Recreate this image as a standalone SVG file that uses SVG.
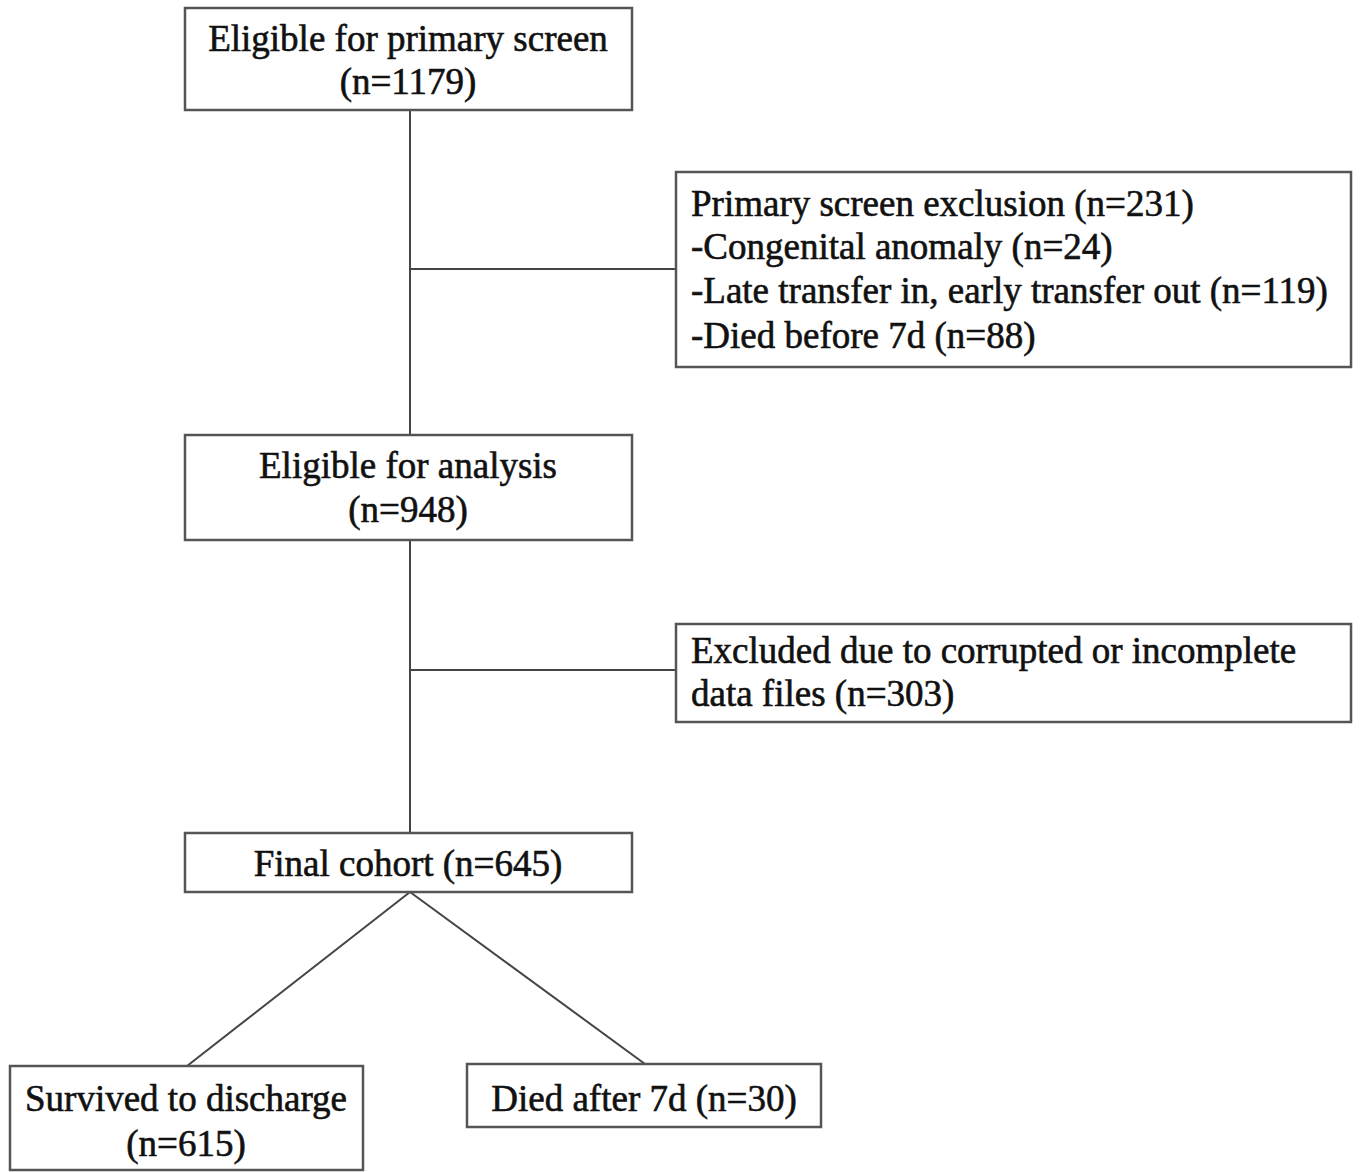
<svg xmlns="http://www.w3.org/2000/svg" width="1360" height="1172" viewBox="0 0 1360 1172">
<style>
.box{fill:#fff;stroke:#555;stroke-width:2.5}
.ln{stroke:#444;stroke-width:2;fill:none}
text{font-family:"Liberation Serif","Times New Roman",serif;font-size:37px;fill:#111;stroke:#111;stroke-width:0.6}
.c{text-anchor:middle}
</style>
<rect width="1360" height="1172" fill="#fff"/>
<g id="connectors">
<line class="ln" x1="410" y1="110" x2="410" y2="435"/>
<line class="ln" x1="410" y1="269" x2="676" y2="269"/>
<line class="ln" x1="410" y1="540" x2="410" y2="833"/>
<line class="ln" x1="410" y1="670" x2="676" y2="670"/>
<line class="ln" x1="410" y1="892" x2="187" y2="1066"/>
<line class="ln" x1="410" y1="892" x2="645" y2="1064"/>
</g>
<g id="n1">
<rect class="box" x="185" y="8" width="447" height="102"/>
<text class="c" x="408" y="51">Eligible for primary screen</text>
<text class="c" x="408" y="94">(n=1179)</text>
</g>
<g id="n2">
<rect class="box" x="676" y="172" width="675" height="195"/>
<text x="691" y="216">Primary screen exclusion (n=231)</text>
<text x="691" y="259">-Congenital anomaly (n=24)</text>
<text x="691" y="303">-Late transfer in, early transfer out (n=119)</text>
<text x="691" y="348">-Died before 7d (n=88)</text>
</g>
<g id="n3">
<rect class="box" x="185" y="435" width="447" height="105"/>
<text class="c" x="408" y="478">Eligible for analysis</text>
<text class="c" x="408" y="522">(n=948)</text>
</g>
<g id="n4">
<rect class="box" x="676" y="624" width="675" height="98"/>
<text x="691" y="663">Excluded due to corrupted or incomplete</text>
<text x="691" y="706">data files (n=303)</text>
</g>
<g id="n5">
<rect class="box" x="185" y="833" width="447" height="59"/>
<text class="c" x="408" y="876">Final cohort (n=645)</text>
</g>
<g id="n6">
<rect class="box" x="10" y="1066" width="353" height="104"/>
<text class="c" x="186" y="1111">Survived to discharge</text>
<text class="c" x="186" y="1156">(n=615)</text>
</g>
<g id="n7">
<rect class="box" x="467" y="1064" width="354" height="63"/>
<text class="c" x="644" y="1111">Died after 7d (n=30)</text>
</g>
</svg>
